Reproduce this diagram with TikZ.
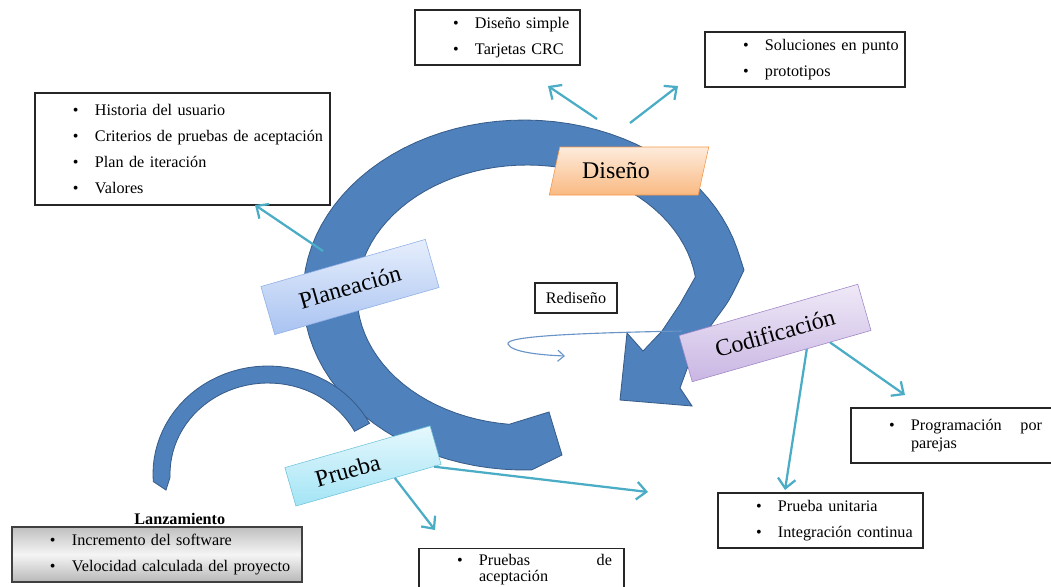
\documentclass[tikz,border=0pt]{standalone}
\usepackage{fontspec}
\setmainfont{Liberation Serif}
\usetikzlibrary{arrows.meta, positioning, calc, shapes.geometric}
\definecolor{xpblue}{HTML}{4F81BD}
\definecolor{xpblueline}{HTML}{385D8A}
\definecolor{xpteal}{HTML}{4BACC6}
\definecolor{plantop}{HTML}{E6EEFC}
\definecolor{planbot}{HTML}{A9C3F1}
\definecolor{planline}{HTML}{8EAEE6}
\definecolor{dsgtop}{HTML}{FEEBDC}
\definecolor{dsgbot}{HTML}{F9BA82}
\definecolor{dsgline}{HTML}{F79646}
\definecolor{codtop}{HTML}{EFE9F7}
\definecolor{codbot}{HTML}{C9B6E3}
\definecolor{codline}{HTML}{9F85C6}
\definecolor{prbtop}{HTML}{E6F8FD}
\definecolor{prbbot}{HTML}{A3E4F5}
\definecolor{prbline}{HTML}{6FC4DA}
\newcommand{\bul}[1]{\hspace*{9.5mm}\makebox[5.5mm][l]{\textbullet}#1}

\begin{document}
\begin{tikzpicture}[x=0.25mm, y=-0.25mm, >={Straight Barb[length=2.4mm, width=4.4mm]},
  phase/.style={rectangle, rotate=16, draw=#1line, top color=#1top, bottom color=#1bot, font=\fontsize{17}{20}\selectfont},
  infobox/.style={rectangle, draw=black!85, line width=0.9pt, fill=white, inner xsep=0pt, text width=#1, align=left, font=\fontsize{11.5}{18.5}\selectfont},
  link/.style={->, xpteal, line width=1.6pt}]
  \useasboundingbox (0,0) rectangle (1051,586);

  % ciclo principal
  \filldraw[fill=xpblue, draw=xpblueline, line width=0.6pt]
    (562,455) -- plot[domain=88:345, samples=70, variable=\t] ({524+221*cos(\t)}, {295+175*sin(\t)})
    -- plot[smooth] coordinates {(744,270) (729,300) (710,327) (691,358)} -- (680,388) -- (692,406) -- (620,400) -- (627,333) -- (643,351)
    -- plot[smooth] coordinates {(662,331) (680,304)}
    -- plot[domain=352:96, samples=70, variable=\t] ({527+170*cos(\t)}, {295+130*sin(\t)})
    -- (549,412) -- cycle;
  % lanzamiento
  \filldraw[fill=xpblue, draw=xpblueline, line width=0.6pt]
    plot[domain=176:332, samples=40, variable=\t] ({268+115*cos(\t)}, {474+108*sin(\t)})
    -- plot[domain=332:178, samples=40, variable=\t] ({268+98*cos(\t)}, {474+91*sin(\t)})
    -- (166,490) -- cycle;

  % rediseño
  \coordinate (rdA) at (682,331);
  \coordinate (rdB) at (565,356);
  \draw[xpblue!85, line width=0.8pt, -{Straight Barb[length=1.6mm, width=2.8mm]}]
    (rdA) .. controls (580,333) and (505,336) .. (508,344) .. controls (511,352) and (540,355) .. (rdB);

  \node[phase=plan, minimum width=42.75mm, minimum height=12.5mm] (plan) at (350,287) {Planeación};
  \node[trapezium, trapezium left angle=73, trapezium right angle=107, trapezium stretches=true,
    draw=dsgline, top color=dsgtop, bottom color=dsgbot, minimum width=40mm, minimum height=12mm,
    font=\fontsize{17}{20}\selectfont] (dsg) at (629,171) {Diseño\hspace*{6.5mm}};
  \node[phase=cod, minimum width=46.5mm, minimum height=12mm] (cod) at (775,333) {Codificación};
  \node[phase=prb, minimum width=37.75mm, minimum height=10mm] (prb) at (363,466) {Prueba\hspace*{8mm}};

  \node[infobox=41.25mm, minimum height=13.75mm] (dsgbox) at (497.5,37.5) {\bul{Diseño simple}\\\bul{Tarjetas CRC}};
  \node[infobox=50mm, minimum height=13.75mm] (solbox) at (805,59.5) {\bul{Soluciones en punto}\\\bul{prototipos}};
  \node[infobox=73.75mm, minimum height=28mm] (planbox) at (182.5,149)
    {\bul{Historia del usuario}\\\bul{Criterios de pruebas de aceptación}\\\bul{Plan de iteración}\\\bul{Valores}};
  \node[infobox=20.5mm, minimum height=7.5mm, align=center] (redis) at (576,298) {Rediseño};
  \node[infobox=51.25mm, minimum height=13.75mm, font=\fontsize{11.5}{12.8}\selectfont] (parbox) at (953.5,435.5)
    {\bul{\makebox[32.75mm][s]{Programación\hfill por}}\\\hspace*{15mm}parejas};
  \node[infobox=51.25mm, minimum height=13.75mm] (unibox) at (820.5,520.5) {\bul{Prueba unitaria}\\\bul{Integración continua}};
  \node[infobox=51.25mm, anchor=north, inner ysep=1.5mm, font=\fontsize{11.5}{11}\selectfont] (acebox) at (521.5,548)
    {\bul{\makebox[33.25mm][s]{Pruebas\hfill de}}\\\hspace*{15mm}aceptación};
  \node[infobox=72.5mm, minimum height=13.75mm, draw=black!75, top color=black!25, bottom color=black!28, middle color=black!4] (lanz) at (157,554.5)
    {\bul{Incremento del software}\\\bul{Velocidad calculada del proyecto}};
  \node[font=\bfseries\fontsize{11.5}{13}\selectfont, inner sep=1pt, above=0pt of lanz.north, xshift=5.7mm] (lanzlbl) {Lanzamiento};

  \coordinate (d1s) at (597,119);
  \coordinate (d1e) at (548,86);
  \coordinate (d2s) at (630,123);
  \coordinate (d2e) at (678,86);
  \coordinate (p1s) at (323,251);
  \coordinate (p1e) at (255,205);
  \coordinate (c1e) at (785,490);
  \coordinate (c2e) at (905,395);
  \coordinate (t1e) at (435,530);
  \coordinate (t2e) at (648,492);
  \draw[link] (d1s) -- (d1e);
  \draw[link] (d2s) -- (d2e);
  \draw[link] (p1s) -- (p1e);
  \draw[link] ($(cod.south)!0.28!(cod.south east)$) -- (c1e);
  \draw[link] ($(cod.south)!0.54!(cod.south east)$) -- (c2e);
  \draw[link] ($(prb.south)!0.36!(prb.south east)$) -- (t1e);
  \draw[link] ($(prb.south)!0.9!(prb.south east)$) -- (t2e);
\end{tikzpicture}
\end{document}
